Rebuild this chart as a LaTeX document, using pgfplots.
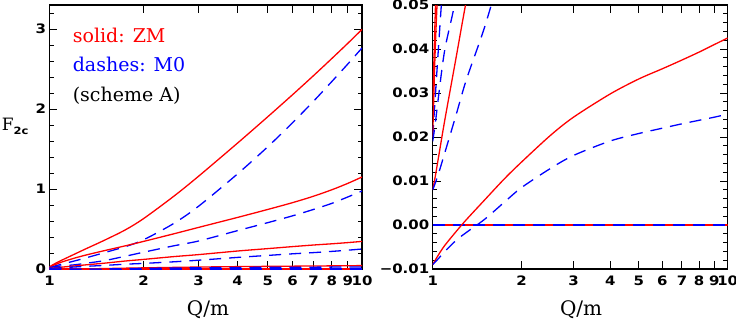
\documentclass[border=0pt]{standalone}
\usepackage{fontspec}
\setmainfont{DejaVu Serif}
\newfontfamily\tickfont[FakeStretch=1.15]{DejaVu Sans Bold}
\usepackage{pgfplots}
\pgfplotsset{compat=1.18}
\usepackage{pgfplotstable}

% F2c vs Q/m, columns: ZM (R) and M0 (B) for four x values
\pgfplotstableread{
x     R1     B1     R2     B2     R3     B3     R4       B4
1.00  0.027  0.020  0.020  0.019  0.008  0.008  -0.0090  -0.0090
1.02  0.048  0.029  0.040  0.023  0.011  0.0095 -0.0080  -0.0084
1.05  0.075  0.042  0.060  0.030  0.016  0.012  -0.0066  -0.0075
1.10  0.114  0.062  0.090  0.040  0.024  0.0165 -0.0046  -0.0060
1.20  0.184  0.100  0.135  0.052  0.038  0.025  -0.0015  -0.0035
1.30  0.248  0.136  0.172  0.070  0.051  0.033   0.0012  -0.0017
1.50  0.360  0.205  0.230  0.105  0.073  0.045   0.0057   0.0013
1.75  0.490  0.280  0.290  0.160  0.100  0.060   0.0105   0.0052
2.00  0.630  0.365  0.345  0.210  0.120  0.070   0.0143   0.0085
2.50  0.910  0.570  0.440  0.290  0.155  0.090   0.0203   0.0128
3.00  1.160  0.785  0.520  0.350  0.180  0.110   0.0245   0.0158
4.00  1.575  1.190  0.645  0.480  0.225  0.145   0.0298   0.0191
5.00  1.905  1.530  0.745  0.580  0.255  0.170   0.0332   0.0208
6.00  2.180  1.830  0.830  0.665  0.280  0.190   0.0355   0.0220
7.00  2.418  2.098  0.910  0.745  0.300  0.205   0.0375   0.0230
8.00  2.630  2.342  0.990  0.820  0.315  0.220   0.0393   0.0238
9.00  2.820  2.561  1.070  0.900  0.330  0.235   0.0410   0.0245
10.0  2.995  2.763  1.150  0.975  0.345  0.250   0.0425   0.0252
}\data

\tikzset{
  zm/.style={red, line width=1.3pt},
  mz/.style={blue, line width=1.3pt, dash pattern=on 12pt off 8pt},
}

\begin{document}
\begin{tikzpicture}
\begin{semilogxaxis}[
  at={(49.5pt,53pt)}, anchor=south west,
  scale only axis, width=312.5pt, height=264pt,
  xmin=1, xmax=10,
  xtick={1,2,3,4,5,6,7,8,9,10},
  xticklabels={1,2,3,4,5,6,7,8,9,10},
  minor xtick={},
  ymin=0, ymax=3.3,
  ytick={0,1,2,3}, yticklabels={0,1,2,3},
  minor ytick={0.2,0.4,...,3.2},
  tick align=inside,
  major tick length=8pt, minor tick length=4.5pt,
  axis line style={line width=1.2pt},
  every tick/.style={black, line width=1pt},
  tick label style={font=\tickfont\fontsize{13}{13}\selectfont},
  xticklabel style={yshift=-3pt},
  clip mode=individual,
  xlabel={Q/m},
  xlabel style={font=\fontsize{20}{20}\selectfont, anchor=base, inner sep=0pt,
    at={(axis description cs:0.507,0)}, yshift=-46pt},
]
\addplot[zm, no marks] coordinates {(1,0) (10,0)};
\addplot[mz, no marks] coordinates {(1,0) (10,0)};
\addplot[zm, no marks, smooth] table[x=x, y=R1] {\data};
\addplot[mz, no marks, smooth] table[x=x, y=B1] {\data};
\addplot[zm, no marks, smooth] table[x=x, y=R2] {\data};
\addplot[mz, no marks, smooth] table[x=x, y=B2] {\data};
\addplot[zm, no marks, smooth] table[x=x, y=R3] {\data};
\addplot[mz, no marks, smooth] table[x=x, y=B3] {\data};
\addplot[zm, no marks, smooth] table[x=x, y=R4] {\data};
\addplot[mz, no marks, smooth] table[x=x, y=B4] {\data};
\node[anchor=base west, inner sep=0pt, text=red, font=\fontsize{19}{19}\selectfont]
  at (rel axis cs:0.074,0.857) {solid: ZM};
\node[anchor=base west, inner sep=0pt, text=blue, font=\fontsize{19}{19}\selectfont]
  at (rel axis cs:0.074,0.747) {dashes: M0};
\node[anchor=base west, inner sep=0pt, font=\fontsize{19}{19}\selectfont]
  at (rel axis cs:0.074,0.636) {(scheme A)};
\node[anchor=base west, inner sep=0pt, font=\fontsize{17}{17}\selectfont]
  at (rel axis cs:-0.153,0.5265) {F\raisebox{-4.3pt}{\tickfont\fontsize{10}{10}\selectfont 2c}};
\end{semilogxaxis}

\begin{semilogxaxis}[
  at={(432.7pt,53pt)}, anchor=south west,
  scale only axis, width=295pt, height=264pt,
  xmin=1, xmax=10,
  xtick={1,2,3,4,5,6,7,8,9,10},
  xticklabels={1,2,3,4,5,6,7,8,9,10},
  minor xtick={},
  ymin=-0.01, ymax=0.05,
  ytick={-0.01,0,0.01,0.02,0.03,0.04,0.05},
  yticklabels={−0.01,0.00,0.01,0.02,0.03,0.04,0.05},
  minor ytick={-0.008,-0.006,...,0.049},
  tick align=inside,
  major tick length=8pt, minor tick length=4.5pt,
  axis line style={line width=1.2pt},
  every tick/.style={black, line width=1pt},
  tick label style={font=\tickfont\fontsize{13}{13}\selectfont},
  xticklabel style={yshift=-3pt},
  clip mode=individual,
  xlabel={Q/m},
  xlabel style={font=\fontsize{20}{20}\selectfont, anchor=base, inner sep=0pt,
    at={(axis description cs:0.503,0)}, yshift=-46pt},
]
\addplot[zm, no marks] coordinates {(1,0) (10,0)};
\addplot[mz, no marks] coordinates {(1,0) (10,0)};
\addplot[zm, no marks, smooth] table[x=x, y=R1] {\data};
\addplot[mz, no marks, smooth] table[x=x, y=B1] {\data};
\addplot[zm, no marks, smooth] table[x=x, y=R2] {\data};
\addplot[mz, no marks, smooth] table[x=x, y=B2] {\data};
\addplot[zm, no marks, smooth] table[x=x, y=R3] {\data};
\addplot[mz, no marks, smooth] table[x=x, y=B3] {\data};
\addplot[zm, no marks, smooth] table[x=x, y=R4] {\data};
\addplot[mz, no marks, smooth] table[x=x, y=B4] {\data};
\end{semilogxaxis}
\pgfresetboundingbox
\path[use as bounding box] (0,0) rectangle (736pt,322pt);
\end{tikzpicture}
\end{document}
